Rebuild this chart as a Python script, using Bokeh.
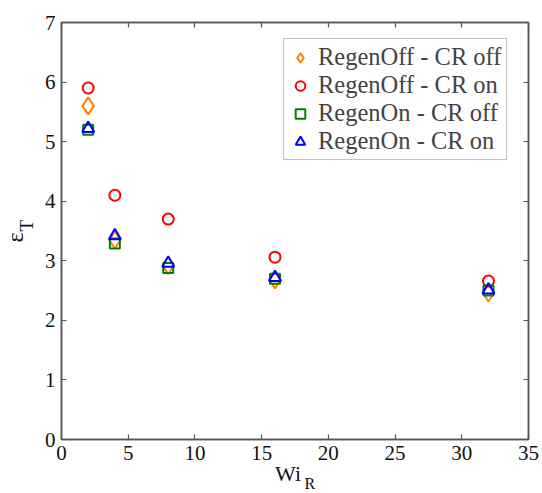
from bokeh.plotting import figure
from bokeh.models import (Range1d, FixedTicker, LinearAxis, Legend, LegendItem, Label,
                          CustomLabelingPolicy)
from bokeh.embed import file_html
from bokeh.resources import INLINE
import math

wi = [2, 4, 8, 16, 32]
regenoff_croff = [5.6, 3.35, 2.92, 2.68, 2.46]
regenoff_cron = [5.9, 4.1, 3.7, 3.06, 2.66]
regenon_croff = [5.2, 3.29, 2.88, 2.7, 2.5]
regenon_cron = [5.22, 3.42, 2.96, 2.72, 2.51]
x_ticks = [0, 5, 10, 15, 20, 25, 30, 35]
y_ticks = [0, 1, 2, 3, 4, 5, 6, 7]

FONT = "Liberation Serif"
AX = "#555555"

p = figure(width=542, height=493, output_backend="svg", toolbar_location=None,
           x_range=Range1d(0, 35), y_range=Range1d(0, 7),
           min_border_left=61, min_border_right=9, min_border_top=22, min_border_bottom=54)
p.xgrid.visible = False
p.ygrid.visible = False
p.outline_line_color = AX
p.outline_line_width = 1.5

hide_all = CustomLabelingPolicy(code="""
for (const i of [...indices]) indices.unset(i)
""")

def style(ax, labels=True):
    ax.axis_line_color = AX
    ax.axis_line_width = 1.5
    ax.major_tick_line_color = AX
    ax.major_tick_line_width = 1.2
    ax.major_tick_in = 5
    ax.major_tick_out = 0
    ax.minor_tick_line_color = None
    ax.major_label_text_font = FONT
    ax.major_label_text_font_size = "21px"
    ax.major_label_text_color = "#111111"
    ax.major_label_standoff = 6
    if not labels:
        ax.major_label_policy = hide_all
        ax.major_label_standoff = 0

p.xaxis.ticker = FixedTicker(ticks=x_ticks)
p.yaxis.ticker = FixedTicker(ticks=y_ticks)
style(p.xaxis[0])
style(p.yaxis[0])
top = LinearAxis(ticker=FixedTicker(ticks=x_ticks))
right = LinearAxis(ticker=FixedTicker(ticks=y_ticks))
style(top, False)
style(right, False)
p.add_layout(top, "above")
p.add_layout(right, "right")

r1 = p.scatter(wi, regenoff_croff, marker="diamond", size=17, fill_color=None,
               line_color="#FF7F00", line_width=2)
r2 = p.scatter(wi, regenoff_cron, marker="circle", size=11, fill_color=None,
               line_color="#FF0000", line_width=2)
r3 = p.scatter(wi, regenon_croff, marker="square", size=10, fill_color=None,
               line_color="#007F00", line_width=2)
r4 = p.scatter(wi, regenon_cron, marker="triangle", size=12, fill_color=None,
               line_color="#0000FF", line_width=2)

legend = Legend(items=[
    LegendItem(label="RegenOff - CR off", renderers=[r1]),
    LegendItem(label="RegenOff - CR on", renderers=[r2]),
    LegendItem(label="RegenOn - CR off", renderers=[r3]),
    LegendItem(label="RegenOn - CR on", renderers=[r4]),
], location=(222, 279))
legend.label_text_font = FONT
legend.label_text_font_size = "24.5px"
legend.label_text_line_height = 0.8
legend.label_height = 25
legend.glyph_height = 25
legend.glyph_width = 24
legend.spacing = 0
legend.padding = 4
legend.margin = 0
legend.label_standoff = 6
legend.border_line_color = "#888888"
legend.border_line_width = 1
legend.background_fill_color = "white"
legend.background_fill_alpha = 1
p.add_layout(legend, "center")

# Axis-title pieces live in side panels (unclipped); placed by data coordinates.
p.add_layout(Label(x=16.98, y=-0.57, text="Wi", text_align="center", text_baseline="alphabetic",
                   text_font=FONT, text_font_size="22px", text_color="#111111"), "left")
p.add_layout(Label(x=18.61, y=-0.74, text="R", text_align="center", text_baseline="alphabetic",
                   text_font=FONT, text_font_size="16px", text_color="#111111"), "left")
p.add_layout(Label(x=-3.49, y=3.39, text="ε", angle=math.pi / 2, text_align="center",
                   text_baseline="alphabetic", text_font=FONT, text_font_size="24px",
                   text_color="#111111"), "below")
p.add_layout(Label(x=-2.6, y=3.59, text="T", angle=math.pi / 2, text_align="center",
                   text_baseline="alphabetic", text_font=FONT, text_font_size="19px",
                   text_color="#111111"), "below")

open("out.html", "w").write(file_html(p, INLINE))
